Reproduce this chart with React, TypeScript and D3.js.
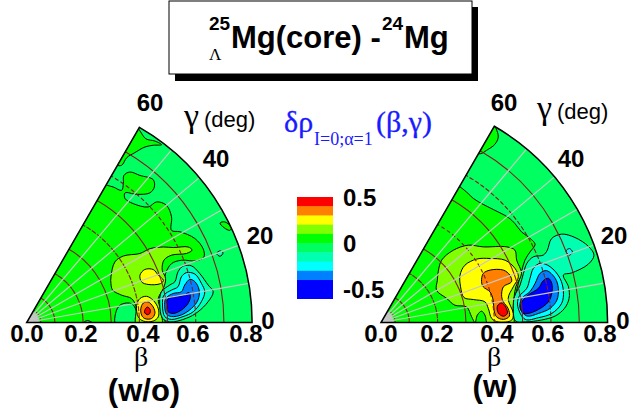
import React from "react";
import * as d3 from "d3";

type Pt = [number, number];
type Region = { level: number; pts: Pt[] };

// Colour bands: upper edge of each band and the band colour
const bandEdges = [0.5, 0.4, 0.3, 0.2, 0.1, 0, -0.1, -0.2, -0.3, -0.4, -0.6];
const bandColors = ["#ff0000", "#ff8000", "#ffff00", "#80ff00", "#00ff00", "#00ff60", "#00ffb0", "#00ffff", "#0080ff", "#0000ff"];
const legendTicks = [0.5, 0, -0.5];
const betaTicks = [0, 0.2, 0.4, 0.6, 0.8];
const gammaTicks = [0, 20, 40, 60];
const gammaGrid = [10, 20, 30, 40, 50];
const betaGrid = [0.05, 0.1, 0.2, 0.3, 0.4, 0.5, 0.6, 0.7];

// Contours of the left panel (w/o), in (beta cos gamma, beta sin gamma)
const leftApex: Pt[] = [[.32,.56],[.38,.71],[.402,.680],[.423,.652],[.455,.644],[.479,.631],[.449,.629],[.420,.623],[.384,.603],[.355,.585],[.337,.558]];
const leftGreen: Pt[] = [[0,-.03],[.26,.50],[.286,.487],[.307,.481],[.337,.469],[.343,.493],[.345,.522],[.366,.534],[.402,.522],[.449,.507],[.453,.481],[.437,.460],[.390,.455],[.349,.460],[.349,.440],[.378,.422],[.431,.410],[.461,.428],[.496,.416],[.514,.375],[.514,.327],[.544,.322],[.597,.298],[.626,.262],[.629,.233],[.603,.219],[.550,.221],[.514,.209],[.493,.174],[.485,.126],[.473,.085],[.482,.044],[.485,-.03]];
const leftHole: Pt[] = [[.317,-.01],[.319,.044],[.337,.065],[.372,.067],[.388,.044],[.390,-.01]];
const leftBump: Pt[] = [[.199,-.004],[.215,.007],[.236,-.004]];
const leftYellowGreen: Pt[] = [[.299,.162],[.313,.215],[.343,.236],[.402,.245],[.437,.262],[.485,.268],[.520,.266],[.573,.268],[.587,.257],[.567,.245],[.514,.239],[.487,.221],[.481,.186],[.493,.156],[.485,.121],[.467,.085],[.475,.044],[.478,-.01],[.390,-.01],[.388,.056],[.372,.085],[.337,.097],[.305,.115],[.299,.138]];
const leftYellowBlob: Pt[] = [[.402,.168],[.419,.188],[.449,.188],[.467,.168],[.485,.150],[.475,.138],[.431,.135],[.408,.144]];
const leftYellowPeak: Pt[] = [[.390,.061],[.402,.085],[.425,.093],[.449,.079],[.467,.049],[.467,.020],[.449,.005],[.414,.005],[.396,.020]];
const leftOrange: Pt[] = [[.405,.049],[.414,.069],[.431,.073],[.449,.055],[.455,.032],[.443,.014],[.419,.014],[.408,.026]];
const leftRed: Pt[] = [[.419,.043],[.428,.055],[.438,.046],[.437,.032],[.428,.028],[.419,.034]];
const leftAqua: Pt[] = [[.472,.068],[.478,.109],[.508,.133],[.526,.145],[.537,.180],[.555,.200],[.585,.201],[.614,.174],[.644,.133],[.662,.109],[.644,.074],[.608,.038],[.567,.015],[.508,.002],[.482,.015]];
const leftCyan: Pt[] = [[.482,.062],[.487,.097],[.514,.115],[.537,.127],[.549,.162],[.567,.177],[.597,.172],[.620,.139],[.632,.109],[.620,.074],[.591,.038],[.555,.021],[.514,.011],[.490,.021]];
const leftAzure: Pt[] = [[.490,.056],[.494,.086],[.520,.103],[.549,.109],[.561,.133],[.579,.153],[.597,.145],[.612,.115],[.608,.080],[.585,.050],[.549,.027],[.514,.021],[.496,.030]];
const leftBlue: Pt[] = [[.498,.056],[.498,.080],[.520,.092],[.555,.095],[.576,.106],[.581,.092],[.573,.068],[.549,.044],[.520,.032],[.502,.038]];
const leftIslandA: Pt[] = [[.686,.353],[.703,.357],[.727,.337],[.721,.327],[.700,.337]];
const leftIslandB: Pt[] = [[.674,.245],[.686,.254],[.697,.247],[.686,.235]];

// Contours of the right panel (w)
const rightApex: Pt[] = [[.33,.60],[.39,.71],[.406,.685],[.414,.655],[.402,.629],[.373,.608],[.352,.596]];
const rightGreen: Pt[] = [[0,-.03],[.26,.49],[.279,.479],[.308,.455],[.326,.438],[.355,.420],[.396,.399],[.449,.371],[.473,.349],[.496,.320],[.520,.302],[.544,.276],[.526,.249],[.508,.220],[.496,.179],[.479,.114],[.470,.055],[.476,-.03]];
const rightYellowGreen: Pt[] = [[.202,.179],[.214,.220],[.255,.255],[.308,.273],[.361,.267],[.444,.267],[.473,.255],[.479,.220],[.496,.173],[.476,.126],[.467,.055],[.465,-.01],[.379,-.01],[.367,.026],[.355,.040],[.340,.026],[.332,0],[.320,.02],[.302,.055],[.261,.061],[.232,.085],[.196,.114],[.199,.149]];
const rightYellow: Pt[] = [[.279,.167],[.296,.202],[.338,.224],[.385,.226],[.438,.220],[.473,.191],[.485,.161],[.467,.126],[.449,.085],[.467,.032],[.461,.008],[.414,.002],[.391,.014],[.379,.049],[.367,.073],[.326,.081],[.293,.088],[.281,.126]];
const rightOrange: Pt[] = [[.355,.144],[.361,.173],[.385,.185],[.432,.185],[.455,.167],[.461,.144],[.432,.126],[.426,.091],[.432,.073],[.449,.049],[.453,.022],[.432,.011],[.408,.020],[.399,.044],[.396,.079],[.385,.108],[.361,.126]];
const rightRed: Pt[] = [[.411,.058],[.426,.069],[.440,.055],[.446,.032],[.432,.022],[.414,.034]];
const rightAqua: Pt[] = [[.467,.050],[.471,.091],[.491,.132],[.503,.174],[.515,.209],[.538,.232],[.573,.238],[.587,.255],[.602,.296],[.638,.312],[.685,.300],[.732,.269],[.752,.238],[.732,.206],[.673,.175],[.644,.168],[.662,.126],[.664,.085],[.648,.050],[.615,.023],[.568,.009],[.509,.002],[.475,.005]];
const rightCyan: Pt[] = [[.483,.056],[.487,.091],[.515,.121],[.526,.156],[.538,.191],[.562,.209],[.597,.197],[.632,.156],[.644,.109],[.638,.068],[.603,.032],[.556,.017],[.509,.011]];
const rightAzure: Pt[] = [[.491,.050],[.497,.085],[.526,.109],[.544,.138],[.562,.174],[.585,.183],[.615,.156],[.626,.121],[.621,.079],[.597,.050],[.556,.032],[.515,.023]];
const rightBlue: Pt[] = [[.497,.038],[.495,.068],[.520,.097],[.556,.121],[.573,.148],[.591,.156],[.603,.138],[.603,.103],[.591,.073],[.556,.046],[.520,.032],[.503,.032]];
const rightIsland: Pt[] = [[.653,.252],[.665,.261],[.676,.249],[.665,.238]];

const leftRegions: Region[] = [
  { level: 0.05, pts: leftGreen }, { level: 0.05, pts: leftApex }, { level: 0.05, pts: leftIslandA },
  { level: -0.05, pts: leftHole }, { level: -0.05, pts: leftBump },
  { level: 0.15, pts: leftYellowGreen }, { level: 0.25, pts: leftYellowBlob }, { level: 0.25, pts: leftYellowPeak },
  { level: 0.35, pts: leftOrange }, { level: 0.45, pts: leftRed },
  { level: -0.15, pts: leftAqua }, { level: -0.25, pts: leftCyan }, { level: -0.35, pts: leftAzure }, { level: -0.45, pts: leftBlue },
  { level: -0.15, pts: leftIslandB },
];
const rightRegions: Region[] = [
  { level: 0.05, pts: rightGreen }, { level: 0.05, pts: rightApex },
  { level: 0.15, pts: rightYellowGreen }, { level: 0.25, pts: rightYellow }, { level: 0.35, pts: rightOrange }, { level: 0.45, pts: rightRed },
  { level: -0.15, pts: rightAqua }, { level: -0.25, pts: rightCyan }, { level: -0.35, pts: rightAzure }, { level: -0.45, pts: rightBlue },
  { level: -0.25, pts: rightIsland },
];

const color = d3.scaleThreshold<number, string>()
  .domain(bandEdges.slice(1, -1).reverse())
  .range([...bandColors].reverse());
const legendY = d3.scaleLinear().domain([0.5, -0.4]).range([197, 280]);

const ARIAL = "'Liberation Sans', Arial, sans-serif";
const TIMES = "'Liberation Serif', 'Times New Roman', serif";
const DEG = Math.PI / 180;

function Panel(props: { id: string; ox: number; oy: number; R: number; regions: Region[] }) {
  const { id, ox, oy, R, regions } = props;
  const x = d3.scaleLinear().domain([0, 0.8]).range([ox, ox + R]);
  const y = d3.scaleLinear().domain([0, 0.8]).range([oy, oy - R]);
  const gon = d3.line<Pt>().x((d) => x(d[0])).y((d) => y(d[1])).curve(d3.curveCatmullRomClosed.alpha(0.5));
  const r = (b: number) => x(b) - x(0);
  const arc = d3.arc();
  const sector = (b: number) =>
    arc({ innerRadius: 0, outerRadius: r(b), startAngle: Math.PI / 2, endAngle: 30 * DEG }) as string;
  const ring = (b: number) =>
    arc({ innerRadius: r(b), outerRadius: r(b), startAngle: Math.PI / 2, endAngle: 30 * DEG }) as string;
  return (
    <g>
      <defs>
        <clipPath id={id}>
          <path d={sector(0.8)} transform={`translate(${ox},${oy})`} />
        </clipPath>
      </defs>
      <g clipPath={`url(#${id})`}>
        <path d={sector(0.8)} transform={`translate(${ox},${oy})`} fill={color(-0.05)} />
        {regions.map((g, i) => (
          <path key={i} d={gon(g.pts) as string} fill={color(g.level)} stroke="#000" strokeWidth={1} />
        ))}
        <path d={sector(0.045)} transform={`translate(${ox},${oy})`} fill="#b4c4b4" />
      </g>
      {betaGrid.map((b) => {
        const dashed = Math.round(b * 100) % 20 === 0;
        return (
          <path key={b} d={ring(b)} transform={`translate(${ox},${oy})`} fill="none" stroke="#8a1c1c" strokeWidth={1.1}
            strokeDasharray={b === 0.05 ? "1.5 2" : dashed ? "3.5 3" : undefined} />
        );
      })}
      {gammaGrid.map((g) => (
        <line key={g} x1={x(0)} y1={y(0)} x2={x(0.8 * Math.cos(g * DEG))} y2={y(0.8 * Math.sin(g * DEG))} stroke="#c8c8c8" strokeWidth={1.2} />
      ))}
      <path d={sector(0.8)} transform={`translate(${ox},${oy})`} fill="none" stroke="#000" strokeWidth={1.5} />
    </g>
  );
}

function Labels(props: { betaX: number[]; gammaXY: Pt[]; gy: number; gx: number; bx: number; sub: string; subX: number; subY: number; }) {
  const { betaX, gammaXY, gy, gx, bx, sub, subX, subY } = props;
  return (
    <g fontFamily={ARIAL} fontWeight="bold" fontSize={24} fill="#000" textAnchor="middle">
      {betaTicks.map((b, i) => (
        <text key={b} x={betaX[i]} y={341.5}>{b.toFixed(1)}</text>
      ))}
      {gammaTicks.map((g, i) => (
        <text key={g} x={gammaXY[i][0]} y={gammaXY[i][1]}>{g}</text>
      ))}
      <text x={gx} y={gy} textAnchor="start" fontWeight="normal" fontSize={22}>
        <tspan fontFamily={TIMES} fontSize={34}>γ</tspan>
        <tspan dx={5}>(deg)</tspan>
      </text>
      <text x={bx} y={366} fontFamily={TIMES} fontWeight="normal" fontSize={28}>β</text>
      <text x={subX} y={subY} fontSize={31}>{sub}</text>
    </g>
  );
}

export default function App() {
  return (
    <svg width={631} height={412} style={{ position: "absolute", left: 0, top: 0, background: "#fff" }}>
      <rect x={175} y={7} width={303} height={74} fill="#000" />
      <rect x={169} y={1} width={303} height={73} fill="#fff" stroke="#000" strokeWidth={1} />
      <g fontFamily={ARIAL} fontWeight="bold" fill="#000">
        <text x={209} y={30} fontSize={19}>25</text>
        <text x={231} y={48} fontSize={31}>Mg(core) -</text>
        <text x={382} y={30} fontSize={19}>24</text>
        <text x={404} y={48} fontSize={31}>Mg</text>
      </g>
      <text x={209} y={60} fontFamily={TIMES} fontSize={17} fill="#000">Λ</text>

      <Panel id="cl" ox={26.7} oy={322.5} R={225.4} regions={leftRegions} />
      <Panel id="cr" ox={381} oy={322.5} R={226.6} regions={rightRegions} />

      <Labels betaX={[27, 81, 143, 193, 246]} gammaXY={[[268, 329], [260, 244], [216, 167], [150, 111]]} gx={184} gy={127} bx={141} sub="(w/o)" subX={144} subY={401} />
      <Labels betaX={[381, 437, 497, 548, 600]} gammaXY={[[623, 329], [614, 244], [571, 167], [504, 111]]} gx={537} gy={119} bx={494} sub="(w)" subX={495} subY={397} />

      <g fill="#1a1aff" stroke="#1a1aff" strokeWidth={0.3} fontFamily={TIMES}>
        <text x={284} y={132} fontSize={30}>δρ</text>
        <text x={314} y={145} fontSize={18} stroke="none">I=0;α=1</text>
        <text x={376} y={132} fontSize={30}>(β,γ)</text>
      </g>

      {bandColors.map((c, i) => (
        <rect key={c} x={297} y={legendY(bandEdges[i])} width={36} height={i === 9 ? 19 : legendY(bandEdges[i + 1]) - legendY(bandEdges[i]) + 0.5} fill={c} />
      ))}
      <g fontFamily={ARIAL} fontWeight="bold" fontSize={24} fill="#000">
        {legendTicks.map((v) => (
          <text key={v} x={343} y={legendY(v) + 9}>{v}</text>
        ))}
      </g>
    </svg>
  );
}
